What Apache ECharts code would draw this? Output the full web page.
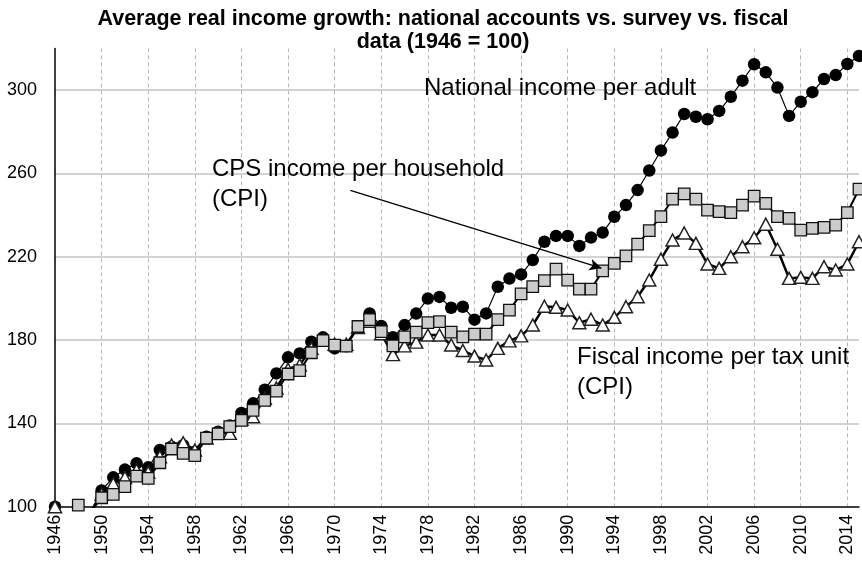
<!DOCTYPE html>
<html><head><meta charset="utf-8">
<script src="https://cdn.jsdelivr.net/npm/echarts@6/dist/echarts.min.js"></script>
<style>html,body{margin:0;padding:0;background:#fff}#c{width:862px;height:567px}</style>
</head><body><div id="c"></div>
<script>
const years = [1946,1947,1948,1949,1950,1951,1952,1953,1954,1955,1956,1957,1958,1959,1960,1961,1962,1963,1964,1965,
1966,1967,1968,1969,1970,1971,1972,1973,1974,1975,1976,1977,1978,1979,1980,1981,1982,1983,1984,1985,
1986,1987,1988,1989,1990,1991,1992,1993,1994,1995,1996,1997,1998,1999,2000,2001,2002,2003,2004,2005,
2006,2007,2008,2009,2010,2011,2012,2013,2014,2015];

// National income per adult (black circles)
const nationalIncome = [100,97,96.5,97,107.8,114.1,117.8,120.8,118.9,127.2,128.8,129.5,126.4,133.6,136.0,139.0,145.0,149.6,156.2,164.0,
171.7,173.6,179.2,181.3,176.0,177.0,186.0,192.8,186.8,181.3,187.2,192.7,199.9,200.7,195.5,196.0,189.8,192.8,205.6,209.5,
211.5,218.4,227.2,230.0,230.0,225.2,229.2,231.6,239.2,244.8,252.0,261.4,271.0,279.6,288.5,287.2,286.0,290.0,296.8,304.5,
312.4,308.5,301.2,287.6,294.4,299.0,305.3,307.2,312.5,316.4];

// CPS income per household (CPI) (grey squares)
const cpsIncome = [null,null,100.8,97,104.3,105.9,109.6,114.7,113.6,121.1,127.7,125.6,124.5,132.9,135.0,138.4,141.4,146.2,151.0,155.5,
163.7,165.3,173.9,179.7,177.6,177.1,186.5,189.8,184.0,177.2,181.5,183.8,188.4,188.8,183.8,181.5,182.8,182.8,189.8,194.4,
202.2,205.6,208.5,214.0,208.8,204.4,204.4,213.2,216.8,220.4,226.0,232.5,239.2,247.6,250.2,247.6,242.4,241.6,241.2,244.8,
249.1,245.6,239.2,238.4,232.8,233.6,234.1,235.2,241.2,252.4];

// Fiscal income per tax unit (CPI) (white triangles)
const fiscalIncome = [100,97,96,97,106.0,111.0,114.0,117.5,116.5,124.0,129.6,130.7,127.2,133.0,135.5,135.2,142.0,143.2,152.0,157.0,
166.0,168.0,176.0,180.0,178.0,178.0,186.0,189.0,183.0,173.0,177.2,179.0,182.4,182.4,177.6,175.0,172.3,170.4,176.0,179.6,
182.0,187.2,196.2,195.7,194.4,188.3,190.0,187.2,190.9,196.0,200.8,208.8,218.8,228.0,231.4,226.4,216.5,214.4,220.0,224.8,
229.1,235.6,223.6,209.6,210.1,209.6,215.2,213.6,216.5,227.2];

const yTicks = [100,140,180,220,260,300];
const BASE_YEAR = 1946;
const LAST_YEAR = 2015;
// arrow from the "CPS" label to the CPS series (data coordinates: [year, value])
const arrowFrom = [1971.35, 251.8];
const arrowTo = [1992.9, 214.5];

const FONT = '"Liberation Sans", Arial, sans-serif';
const pairs = arr => arr.map((v, i) => [years[i] - BASE_YEAR, v]);

const chart = echarts.init(document.getElementById('c'), null, {renderer: 'canvas'});
chart.setOption({
  animation: false,
  backgroundColor: '#ffffff',
  title: {
    text: 'Average real income growth: national accounts vs. survey vs. fiscal\ndata (1946 = 100)',
    left: 438, top: 3, textAlign: 'center',
    textStyle: {fontFamily: FONT, fontWeight: 'bold', fontSize: 21.5, lineHeight: 23, color: '#000'}
  },
  grid: {left: 55, right: 3, top: 48.4, bottom: 60.3, containLabel: false},
  xAxis: {
    type: 'value', min: 0, max: LAST_YEAR - BASE_YEAR, interval: 4,
    axisLine: {onZero: false, lineStyle: {color: '#000', width: 1.5}},
    axisTick: {show: false},
    axisLabel: {rotate: 90, margin: 8, fontFamily: FONT, fontSize: 18, color: '#000',
      showMaxLabel: false, showMinLabel: true,
      formatter: v => String(v + BASE_YEAR)},
    splitLine: {show: true, showMinLine: false, showMaxLine: false,
      lineStyle: {color: '#b8b8b8', width: 1, type: [4, 3]}}
  },
  yAxis: {
    type: 'value', min: yTicks[0], max: 320, interval: 40,
    axisLine: {show: true, lineStyle: {color: '#000', width: 1.5}},
    axisTick: {show: false},
    axisLabel: {margin: 18, fontFamily: FONT, fontSize: 18, color: '#000', showMaxLabel: false},
    splitLine: {show: true, showMinLine: false, showMaxLine: false,
      lineStyle: {color: '#c4c4c4', width: 1.5}}
  },
  graphic: [
    {type: 'text', left: 424, top: 76, z: 100, style: {text: 'National income per adult', font: '24px ' + FONT, fill: '#000'}},
    {type: 'text', left: 212, top: 157, z: 100, style: {text: 'CPS income per household', font: '24px ' + FONT, fill: '#000'}},
    {type: 'text', left: 212, top: 187, z: 100, style: {text: '(CPI)', font: '24px ' + FONT, fill: '#000'}},
    {type: 'text', left: 577, top: 345, z: 100, style: {text: 'Fiscal income per tax unit', font: '24px ' + FONT, fill: '#000'}},
    {type: 'text', left: 577, top: 375, z: 100, style: {text: '(CPI)', font: '24px ' + FONT, fill: '#000'}}
  ],
  series: [
    {
      name: 'National income per adult', type: 'line', data: pairs(nationalIncome), clip: true, z: 2,
      symbol: 'circle', symbolSize: 12.5,
      itemStyle: {color: '#000', borderColor: '#000', borderWidth: 0},
      lineStyle: {color: '#000', width: 1.2}
    },
    {
      name: 'Fiscal income per tax unit (CPI)', type: 'line', data: pairs(fiscalIncome), clip: true, z: 3,
      symbol: 'triangle', symbolSize: [13, 12],
      itemStyle: {color: '#ffffff', borderColor: '#222', borderWidth: 1.5},
      lineStyle: {color: '#000', width: 2.5}
    },
    {
      name: 'CPS income per household (CPI)', type: 'line', data: pairs(cpsIncome), clip: true, z: 4,
      symbol: 'rect', symbolSize: 11.5,
      itemStyle: {color: '#cccccc', borderColor: '#111', borderWidth: 1.3},
      lineStyle: {color: '#000', width: 2},
      markLine: {
        silent: true, symbol: ['none', 'arrow'], symbolSize: [9, 12], z: 5,
        label: {show: false},
        lineStyle: {color: '#000', width: 1.3, type: 'solid'},
        data: [[{coord: [arrowFrom[0] - BASE_YEAR, arrowFrom[1]]}, {coord: [arrowTo[0] - BASE_YEAR, arrowTo[1]]}]]
      }
    }
  ]
});
</script></body></html>
